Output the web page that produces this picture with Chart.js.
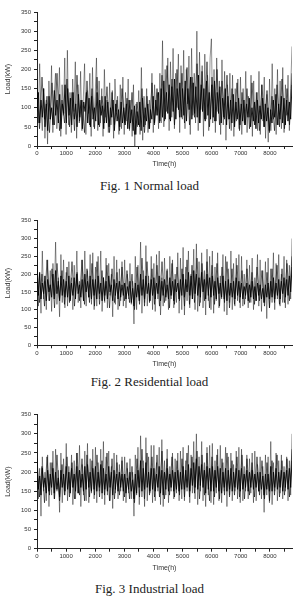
<!DOCTYPE html>
<html>
<head>
<meta charset="utf-8">
<script src="https://cdn.jsdelivr.net/npm/chart.js@4"></script>
<style>
  body { margin: 0; background: #fff; width: 299px; height: 603px; position: relative; overflow: hidden; }
  .box { position: absolute; left: 0; width: 299px; }
  .cap { position: absolute; left: 0; width: 299px; text-align: center; height: 16px; line-height: 16px;
         font-family: "Liberation Serif", "Times New Roman", serif; font-size: 13px; color: #222; }
</style>
</head>
<body>
<div class="box" style="top:0px;height:170px"><canvas id="c1"></canvas></div>
<div class="cap" style="top:178px">Fig. 1 Normal load</div>
<div class="box" style="top:200px;height:170px"><canvas id="c2"></canvas></div>
<div class="cap" style="top:374px">Fig. 2 Residential load</div>
<div class="box" style="top:400px;height:174px"><canvas id="c3"></canvas></div>
<div class="cap" style="top:581px">Fig. 3 Industrial load</div>
<script>
// hours covered by each series (one year)
const hours = 8760;
const xTicks = [0, 1000, 2000, 3000, 4000, 5000, 6000, 7000, 8000];
const yTicks = [0, 50, 100, 150, 200, 250, 300, 350];

// Fig. 1 normal load: outer spikes (light grey), middle band and dense core (black)
// one line ~ 1000 h
const normalSpikes = [
  180,60,215,95,40,150,20,120,5,170,70,210,35,130,190,45,100,205,25,160,80,230,
  30,250,55,140,35,175,90,220,20,160,60,195,40,120,215,30,145,85,190,25,205,50,
  130,230,40,170,60,150,25,200,75,120,35,165,55,145,20,175,90,130,30,160,45,180,
  30,140,65,175,40,120,25,160,0,110,50,145,30,205,15,130,55,150,35,120,60,190,
  35,160,80,140,45,190,60,275,50,200,90,230,40,220,75,255,45,190,100,240,35,210,
  70,250,45,200,110,235,30,255,80,190,60,300,40,245,95,210,25,240,70,185,40,230,
  280,60,200,35,230,90,170,30,225,55,195,15,160,70,190,40,185,25,150,65,175,45,
  180,30,150,60,195,35,130,75,185,25,170,55,140,40,195,30,160,65,180,20,135,10,
  175,40,215,70,150,30,200,55,170,45,205,35,160,80,185,40,150,260
];
const normalMid = [
  150,45,180,70,130,35,165,55,190,40,120,60,
  175,50,140,40,185,65,120,35,170,55,150,45,
  180,50,130,60,155,35,140,55,120,40,150,60,
  125,45,140,30,115,50,150,35,130,45,165,55,
  150,60,185,65,210,70,175,55,200,75,190,60,
  205,55,180,75,215,60,195,70,220,50,180,65,
  200,55,170,70,185,45,150,60,165,40,140,55,
  150,45,165,55,140,40,160,50,145,35,130,40,
  160,50,175,45,150,55,190
];
const normalCore = [
  90,140,60,120,75,150,50,110,40,130,70,100,55,145,80,120,60,135,45,110,85,160,
  60,150,80,125,55,140,70,110,50,135,75,120,45,115,90,140,60,125,50,130,70,100,
  65,140,55,120,80,105,45,130,60,115,50,100,75,120,40,110,65,95,50,115,60,100,
  55,110,45,120,60,95,40,105,30,90,55,115,40,125,50,100,65,110,45,95,70,130,
  60,120,80,140,65,150,75,170,70,140,85,160,65,155,90,175,70,150,95,165,75,150,
  80,170,65,150,95,180,70,165,85,155,75,185,60,160,90,150,65,170,80,140,70,160,
  75,170,65,140,85,155,60,125,75,150,55,130,70,120,60,135,50,115,70,125,55,110,
  65,120,55,110,75,125,50,100,65,115,45,120,60,105,70,125,50,110,65,100,40,95,
  60,120,75,135,55,110,70,130,60,125,55,120,65,115,70,160
];

// Fig. 2 residential load
const residentialSpikes = [
  250,110,200,90,265,130,180,100,240,125,210,95,230,140,290,115,190,80,255,120,240,105,
  205,110,235,130,190,100,225,140,265,120,180,105,240,125,265,110,210,135,255,115,260,100,
  220,110,250,130,265,95,190,120,245,105,230,140,200,80,250,115,240,100,215,125,235,110,
  240,105,200,130,230,115,180,60,250,100,225,135,290,90,210,120,280,110,195,125,250,100,
  230,95,255,130,265,85,190,110,245,125,215,100,250,130,240,105,200,120,260,90,245,100,
  275,85,220,125,265,105,200,130,270,100,285,95,235,120,260,105,210,85,270,125,250,100,
  265,90,220,125,260,105,195,130,255,95,250,85,215,120,265,100,230,110,245,125,255,105,
  250,110,200,130,240,105,225,120,245,100,190,125,255,110,240,95,210,120,235,75,245,105,
  215,120,260,100,230,130,255,110,200,120,250,105,240,115,225,130,300
];
const residentialMid = [
  225,120,200,110,240,125,215,105,230,130,210,115,
  220,120,235,110,205,125,240,115,215,120,230,110,
  235,115,210,125,225,105,215,120,205,110,220,125,
  210,120,200,100,220,115,245,110,235,120,215,115,
  225,110,235,120,210,105,230,115,220,125,215,110,
  240,115,225,120,245,110,230,125,235,105,225,115,
  230,110,220,120,235,105,215,115,225,120,210,115,
  215,120,205,115,220,125,210,110,205,105,215,120,
  225,115,215,120,230,125,250
];
const residentialCore = [
  190,140,205,130,175,145,195,125,185,150,170,135,200,130,210,145,180,125,195,140,185,135,
  180,135,195,125,175,140,190,130,200,145,170,135,185,125,200,150,180,135,195,130,185,140,
  185,130,195,145,175,125,190,140,180,130,195,150,170,125,185,140,175,130,180,135,170,140,
  175,130,165,140,180,120,160,110,175,135,170,125,200,140,185,130,195,145,175,125,185,140,
  190,130,175,145,195,125,180,140,185,135,170,130,190,140,180,125,185,150,175,130,185,140,
  200,135,185,150,205,140,195,130,210,145,200,140,190,135,205,150,185,130,200,140,190,135,
  195,140,180,130,190,145,175,135,195,130,180,125,185,140,175,135,180,130,190,140,180,135,
  175,130,165,140,175,125,170,135,180,130,165,125,175,140,170,130,160,120,170,135,175,130,
  180,135,190,130,175,140,185,130,180,145,190,135,185,140,195,150,220
];

// Fig. 3 industrial load
const industrialSpikes = [
  250,130,210,85,240,150,200,125,245,110,225,140,255,130,260,150,205,95,250,120,235,140,
  275,125,215,150,245,115,230,130,250,145,270,110,220,140,255,125,275,120,235,145,260,130,
  265,120,225,150,260,130,280,115,240,140,255,125,215,105,250,145,245,130,220,150,240,125,
  240,120,210,145,235,130,200,85,245,140,265,115,295,135,230,110,290,125,240,145,270,120,
  270,125,225,150,265,115,285,110,230,140,260,120,215,150,250,130,235,145,250,125,255,130,
  265,125,230,150,270,120,245,145,280,130,300,115,240,150,280,125,225,110,265,140,270,120,
  275,115,230,145,260,125,270,120,225,150,265,110,240,140,250,125,220,150,255,130,265,120,
  260,125,215,150,245,130,235,145,250,120,255,125,220,150,240,130,215,95,245,140,240,120,
  280,115,225,150,250,125,230,145,245,130,215,150,240,125,230,140,300
];
const industrialMid = [
  235,135,215,120,240,140,225,130,245,125,220,140,
  240,135,225,130,250,140,235,125,245,135,230,140,
  245,135,230,140,250,125,235,130,225,140,230,135,
  225,130,215,120,235,135,260,130,250,140,240,135,
  245,135,255,130,235,140,240,135,230,140,235,135,
  250,135,240,145,255,130,245,140,250,125,240,135,
  245,130,235,140,250,135,230,140,240,135,245,130,
  235,140,225,135,240,140,230,130,225,125,230,140,
  245,135,230,140,235,135,260
];
const industrialCore = [
  205,155,190,140,210,160,185,145,205,150,195,160,210,145,200,155,185,135,205,160,195,150,
  215,155,200,145,210,160,195,150,215,145,205,160,195,150,215,155,220,160,200,150,210,155,
  215,150,200,160,220,145,210,155,195,150,215,160,200,140,205,155,195,150,200,160,195,150,
  195,145,185,155,200,150,180,130,195,145,205,160,230,150,210,155,225,160,200,150,210,155,
  210,150,195,160,215,145,205,140,200,155,210,150,195,160,205,150,200,155,205,150,200,155,
  215,155,205,160,220,150,210,165,225,160,235,155,215,165,220,160,205,145,215,155,210,150,
  215,150,205,160,215,150,210,145,200,160,210,150,205,155,210,150,200,160,210,155,205,150,
  210,155,195,160,205,150,200,160,205,155,195,160,200,150,200,155,190,140,195,155,195,150,
  215,150,200,160,210,155,200,160,205,150,200,160,205,155,210,160,230
];

// spread the samples evenly over the year
function toPoints(values) {
  const step = hours / (values.length - 1);
  return values.map((v, i) => ({ x: i * step, y: v }));
}

const tickFont = { family: 'Liberation Sans, Arial, sans-serif', size: 6 };
const titleFont = { family: 'Liberation Sans, Arial, sans-serif', size: 7 };

function makeChart(id, spikes, mid, core, padTop, xHeight) {
  const ctx = document.getElementById(id).getContext('2d');
  return new Chart(ctx, {
    type: 'line',
    data: {
      datasets: [
        { data: toPoints(spikes), borderColor: 'rgba(0,0,0,0.42)', borderWidth: 1, pointRadius: 0, tension: 0 },
        { data: toPoints(mid), borderColor: 'rgba(0,0,0,0.6)', borderWidth: 1, pointRadius: 0, tension: 0 },
        { data: toPoints(core), borderColor: 'rgba(0,0,0,0.88)', borderWidth: 1, pointRadius: 0, tension: 0 }
      ]
    },
    options: {
      responsive: true,
      maintainAspectRatio: false,
      animation: false,
      layout: { padding: { top: padTop, right: 7, left: 0, bottom: 0 } },
      plugins: { legend: { display: false }, tooltip: { enabled: false } },
      scales: {
        x: {
          type: 'linear',
          min: 0,
          max: hours,
          afterFit: s => { s.height = xHeight; },
          afterBuildTicks: s => {
            const t = [];
            for (let v = 0; v <= 8500; v += 500) t.push({ value: v });
            s.ticks = t;
          },
          border: { color: '#222', width: 1 },
          grid: { drawOnChartArea: false, tickLength: 3, color: '#222' },
          ticks: {
            font: tickFont, color: '#333', padding: 1, maxRotation: 0, autoSkip: false,
            callback: v => xTicks.includes(v) ? String(v) : ''
          },
          title: { display: true, text: 'Time(h)', font: titleFont, color: '#333', padding: { top: 0, bottom: 2 } }
        },
        y: {
          min: 0,
          max: 350,
          afterFit: s => { s.width = 37; },
          afterBuildTicks: s => {
            const t = [];
            for (let v = 0; v <= 350; v += 25) t.push({ value: v });
            s.ticks = t;
          },
          border: { color: '#222', width: 1 },
          grid: { drawOnChartArea: false, tickLength: 3, color: '#222' },
          ticks: {
            font: tickFont, color: '#333', padding: 3, autoSkip: false,
            callback: v => yTicks.includes(v) ? String(v) : ''
          },
          title: { display: true, text: 'Load(kW)', font: titleFont, color: '#333', padding: { top: 4, bottom: 0 } }
        }
      }
    }
  });
}

makeChart('c1', normalSpikes, normalMid, normalCore, 12, 24);
makeChart('c2', residentialSpikes, residentialMid, residentialCore, 20.7, 24.7);
makeChart('c3', industrialSpikes, industrialMid, industrialCore, 14.7, 25.3);
</script>
</body>
</html>
